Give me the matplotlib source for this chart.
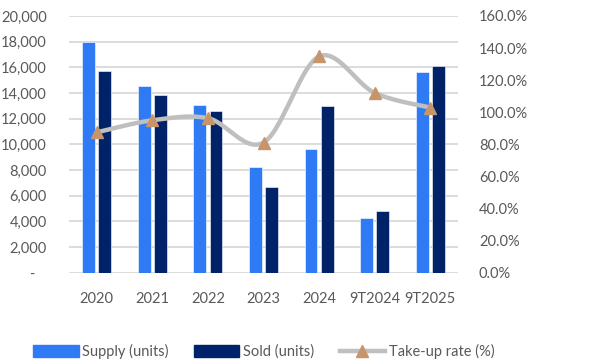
import numpy as np
import matplotlib
matplotlib.use("Agg")
import matplotlib.pyplot as plt
from matplotlib.patches import Patch
from matplotlib.lines import Line2D
from matplotlib.ticker import FuncFormatter

periods = ["2020", "2021", "2022", "2023", "2024", "9T2024", "9T2025"]
supply = [17950, 14580, 13070, 8260, 9620, 4290, 15640]
sold = [15700, 13850, 12580, 6700, 12970, 4810, 16090]
take_up = [87.5, 95.0, 96.3, 81.1, 134.8, 112.1, 102.9]

SUPPLY_COLOR = "#2F7BF5"
SOLD_COLOR = "#002269"
LINE_COLOR = "#BFBFBF"
MARKER_COLOR = "#C8956A"
TEXT_COLOR = "#595959"
GRID_COLOR = "#D9D9D9"

plt.rcParams["font.family"] = ["Lato", "DejaVu Sans"]
plt.rcParams["font.size"] = 10.5


def smooth(xs, ys, steps=30):
  # catmull-rom through the points, like a spreadsheet "smoothed line"
  xs = np.asarray(xs, float)
  ys = np.asarray(ys, float)
  px = np.concatenate([[xs[0]], xs, [xs[-1]]])
  py = np.concatenate([[ys[0]], ys, [ys[-1]]])
  out_x, out_y = [], []
  t = np.linspace(0, 1, steps)
  for i in range(1, len(px) - 2):
    for p, out in ((px, out_x), (py, out_y)):
      p0, p1, p2, p3 = p[i - 1], p[i], p[i + 1], p[i + 2]
      c1 = p1 + (p2 - p0) / 6
      c2 = p2 - (p3 - p1) / 6
      out.extend((1 - t) ** 3 * p1 + 3 * (1 - t) ** 2 * t * c1
                 + 3 * (1 - t) * t ** 2 * c2 + t ** 3 * p2)
  return np.array(out_x), np.array(out_y)


fig = plt.figure(figsize=(6.11, 3.63), dpi=100)
ax = fig.add_axes([69 / 611, 1 - 272.7 / 363, (458 - 69) / 611, (272.7 - 16) / 363])
ax2 = ax.twinx()

x = np.arange(len(periods))
w = 0.23
ax.bar(x - 0.145, supply, w, color=SUPPLY_COLOR, edgecolor="white", linewidth=0.4, zorder=2)
ax.bar(x + 0.145, sold, w, color=SOLD_COLOR, edgecolor="white", linewidth=0.4, zorder=2)

sx, sy = smooth(x, take_up)
ax2.plot(sx, sy, color=LINE_COLOR, lw=3.2, solid_capstyle="round", zorder=3)
ax2.plot(x, take_up, ls="none", marker="^", ms=9, color=MARKER_COLOR, zorder=4)

ax.set_xlim(-0.5, len(periods) - 0.5)
ax.set_ylim(0, 20000)
ax.set_yticks(range(0, 20001, 2000))
ax.yaxis.set_major_formatter(FuncFormatter(lambda v, p: "-   " if v == 0 else f"{int(v):,}"))
ax2.set_ylim(0, 160)
ax2.set_yticks(range(0, 161, 20))
ax2.yaxis.set_major_formatter(FuncFormatter(lambda v, p: f"{v:.1f}%"))

ax.set_xticks(x)
ax.set_xticklabels(periods)
ax.grid(axis="y", color=GRID_COLOR, lw=1.3, zorder=0)
ax.set_axisbelow(True)
for a in (ax, ax2):
  for s in a.spines.values():
    s.set_visible(False)
  a.tick_params(length=0, colors=TEXT_COLOR, labelsize=10.5)
ax.tick_params(axis="x", pad=14)
ax.tick_params(axis="y", pad=16)
ax2.tick_params(axis="y", pad=15)

handles = [
  Patch(color=SUPPLY_COLOR, label="Supply (units)"),
  Patch(color=SOLD_COLOR, label="Sold (units)"),
  Line2D([], [], color=LINE_COLOR, lw=3.2, marker="^", ms=9, mfc=MARKER_COLOR,
         mec=MARKER_COLOR, label="Take-up rate (%)"),
]
leg = fig.legend(handles=handles, loc="center left", bbox_to_anchor=(26 / 611, 1 - 351.5 / 363),
                 ncol=3, frameon=False, handlelength=3.1, handleheight=0.8,
                 handletextpad=0.25, columnspacing=1.75, borderpad=0, fontsize=10.5)
for t in leg.get_texts():
  t.set_color(TEXT_COLOR)

fig.savefig("out.png", dpi=100)
